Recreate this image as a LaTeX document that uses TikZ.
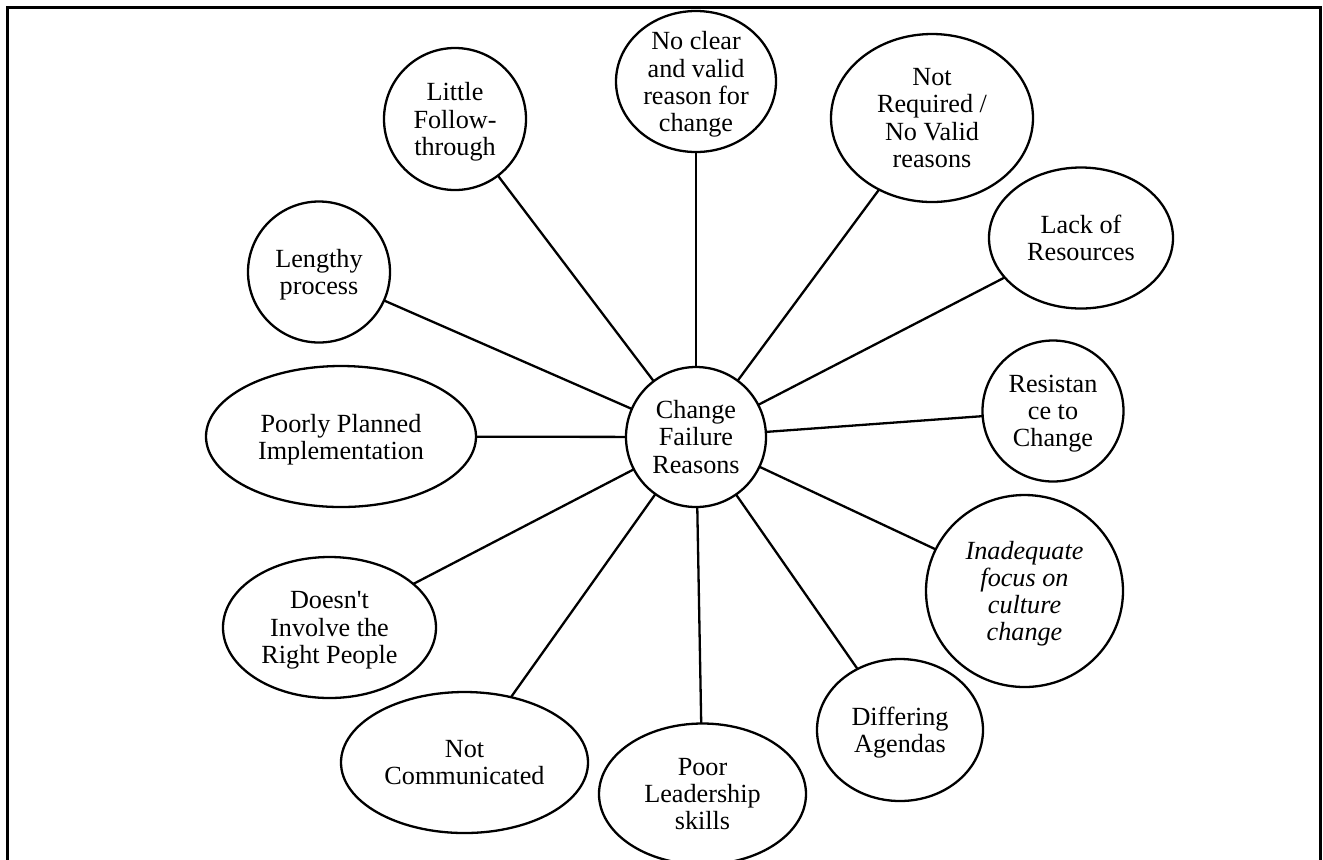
\documentclass[tikz,border=0pt]{standalone}
\usepackage{fontspec}
\setmainfont{Liberation Serif}
\usepackage{amsmath}
\usetikzlibrary{shapes.geometric}
\begin{document}
\begin{tikzpicture}[x=0.5pt,y=-0.5pt,
  ell/.style={draw, line width=1.15pt, ellipse, inner sep=0pt, outer sep=0pt},
  lbl/.style={align=center, font=\fontsize{13.1}{13.6}\selectfont, inner sep=0pt},
  link/.style={line width=1.15pt},
  frame/.style={line width=1.15pt}]
\useasboundingbox (0,0) rectangle (1323,859);
\draw[frame] (7.5,880) -- (7.5,7.5) -- (1320.5,7.5) -- (1320.5,880);

% centre
\node[ell, minimum width=70pt, minimum height=70pt] (c) at (696,437) {};
\node[lbl] (tc) at (c) {Change\\Failure\\Reasons};

% outer nodes
\node[ell, minimum width=80pt,  minimum height=70.5pt] (n1) at (696,81.5) {};
\node[lbl] (t1) at (n1) {No clear\\and valid\\reason for\\\smash[b]{change}};

\node[ell, minimum width=71pt,  minimum height=71pt] (n2) at (455,119) {};
\node[lbl] (t2) at (n2) {Little\\Follow-\\\smash[b]{through}};

\node[ell, minimum width=101pt, minimum height=84pt] (n3) at (932,118) {};
\node[lbl] (t3) at (n3) {Not\\Required /\\No Valid\\reasons};

\node[ell, minimum width=71pt,  minimum height=70.5pt] (n4) at (319,272) {};
\node[lbl] (t4) at (n4) {Lengthy\\\smash[b]{process}};

\node[ell, minimum width=92pt,  minimum height=70.5pt] (n5) at (1081,238) {};
\node[lbl] (t5) at (n5) {Lack of\\Resources};

\node[ell, minimum width=135pt, minimum height=70.5pt] (n6) at (341,436.5) {};
\node[lbl] (t6) at (n6) {Poorly Planned\\\smash[b]{Implementation}};

\node[ell, minimum width=70.5pt, minimum height=70.5pt] (n7) at (1053,411) {};
\node[lbl] (t7) at (n7) {Resistan\\ce to\\\smash[b]{Change}};

\node[ell, minimum width=98.5pt, minimum height=96pt] (n8) at (1024.5,591) {};
\node[lbl, font=\fontsize{13.1}{13.6}\selectfont\itshape] (t8) at (n8) {Inadequate\\focus on\\culture\\\smash[b]{change}};

\node[ell, minimum width=83pt,  minimum height=71pt] (n9) at (900,730) {};
\node[lbl] (t9) at (n9) {Differing\\\smash[b]{Agendas}};

\node[ell, minimum width=103.5pt, minimum height=70.5pt] (n10) at (702.5,794) {};
\node[lbl] (t10) at (n10) {Poor\\Leadership\\skills};

\node[ell, minimum width=123.5pt, minimum height=70.5pt] (n11) at (464.5,762.5) {};
\node[lbl] (t11) at (n11) {Not\\Communicated};

\node[ell, minimum width=106.5pt, minimum height=70.5pt] (n12) at (329.5,627.5) {};
\node[lbl] (t12) at (n12) {Doesn\textquotesingle t\\Involve the\\\smash[b]{Right People}};

% connectors
\foreach \n in {n1,n2,n3,n4,n5,n6,n7,n8,n9,n10,n11,n12}
  \draw[link] (c) -- (\n);
\end{tikzpicture}
\end{document}
